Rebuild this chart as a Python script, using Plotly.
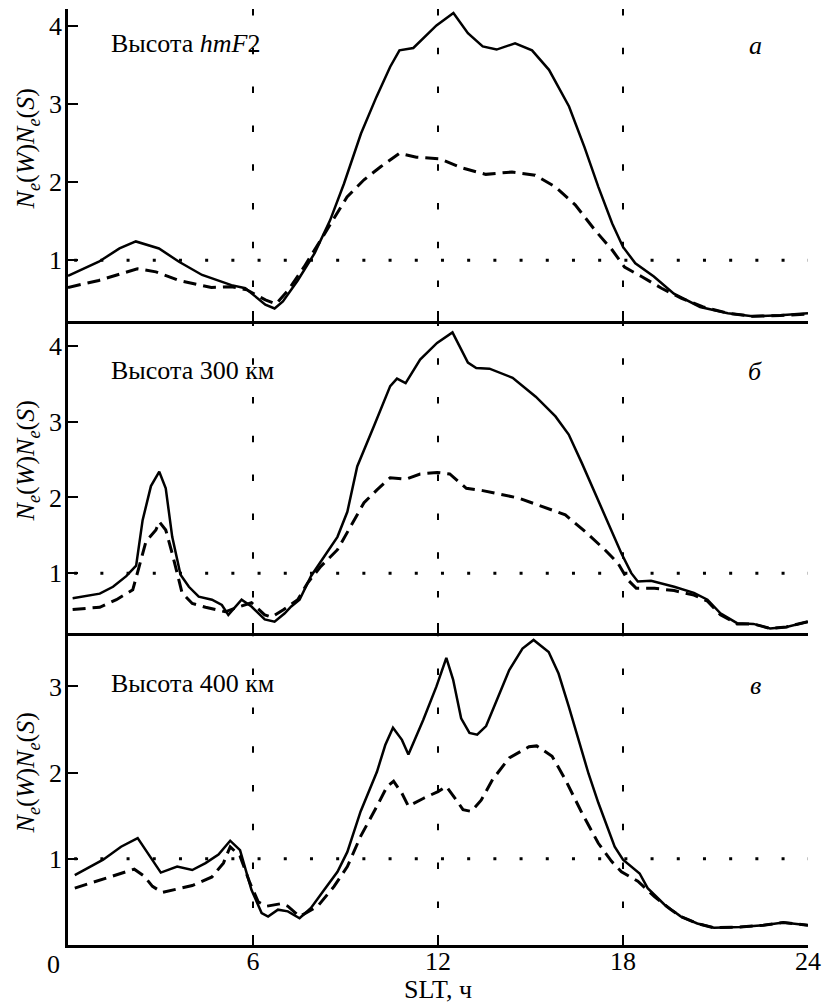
import plotly.graph_objects as go

# ---------------- data ----------------
# SLT hours and Ne(W)/Ne(S) ratios, three heights
hours_a = [0.0, 1.0, 1.67, 2.2, 2.95, 3.6, 4.35, 5.3, 5.75, 6.4, 6.7, 6.97, 7.45, 8.0, 8.5, 8.95,
           9.5, 10.0, 10.45, 10.75, 11.2, 11.95, 12.5, 12.97, 13.45, 13.9, 14.5, 15.05, 15.6, 16.25,
           16.75, 17.2, 17.65, 18.0, 18.4, 19.0, 19.65, 20.5, 21.4, 22.2, 23.1, 24.0]
solid_a = [0.80, 0.98, 1.15, 1.24, 1.15, 0.98, 0.81, 0.68, 0.64, 0.43, 0.38, 0.47, 0.74, 1.09, 1.51, 1.98,
           2.62, 3.09, 3.48, 3.69, 3.72, 4.01, 4.17, 3.91, 3.74, 3.70, 3.78, 3.69, 3.44, 2.97,
           2.45, 1.94, 1.47, 1.17, 0.96, 0.79, 0.57, 0.40, 0.32, 0.28, 0.295, 0.32]
hours_a_d = [0.0, 1.0, 2.25, 2.85, 3.6, 4.65, 5.3, 5.8, 6.4, 6.75, 7.15, 7.65, 8.2, 8.65, 9.05, 9.6,
             10.15, 10.75, 11.3, 12.05, 12.8, 13.55, 14.4, 15.15, 15.8, 16.45, 17.1, 17.65, 18.05,
             18.6, 19.25, 19.9, 20.6, 21.4, 22.2, 23.1, 24.0]
dashed_a = [0.65, 0.74, 0.89, 0.85, 0.74, 0.65, 0.66, 0.62, 0.49, 0.44, 0.62, 0.91, 1.26, 1.56, 1.81, 2.03,
            2.20, 2.37, 2.32, 2.30, 2.18, 2.10, 2.13, 2.09, 1.94, 1.71, 1.38, 1.13, 0.91,
            0.79, 0.64, 0.51, 0.40, 0.32, 0.28, 0.29, 0.31]

hours_b = [0.15, 1.03, 1.46, 1.89, 2.21, 2.42, 2.69, 2.96, 3.17, 3.38, 3.65, 3.92, 4.24, 4.67, 4.99, 5.2,
           5.63, 5.95, 6.38, 6.7, 7.03, 7.24, 7.51, 7.88, 8.31, 8.74, 9.06, 9.38, 9.92, 10.45, 10.67,
           10.95, 11.42, 11.97, 12.47, 12.97, 13.24, 13.67, 14.42, 15.17, 15.81, 16.24, 16.67, 17.1,
           17.52, 17.95, 18.27, 18.48, 18.91, 19.66, 20.3, 20.74, 21.16, 21.7, 22.23, 22.77, 23.3, 24.0]
solid_b = [0.67, 0.73, 0.82, 0.96, 1.10, 1.70, 2.15, 2.34, 2.12, 1.48, 0.98, 0.82, 0.69, 0.65, 0.58, 0.45,
           0.65, 0.56, 0.39, 0.36, 0.47, 0.56, 0.65, 0.96, 1.22, 1.48, 1.81, 2.41, 2.94, 3.47, 3.57,
           3.51, 3.82, 4.04, 4.18, 3.78, 3.71, 3.70, 3.58, 3.33, 3.07, 2.83, 2.45, 2.06,
           1.66, 1.26, 1.00, 0.89, 0.90, 0.82, 0.74, 0.65, 0.47, 0.34, 0.33, 0.27, 0.29, 0.36]
hours_b_d = [0.15, 1.03, 1.57, 2.1, 2.31, 2.53, 2.85, 2.96, 3.17, 3.38, 3.7, 4.03, 4.46, 5.1, 5.5, 5.95,
             6.38, 6.6, 7.0, 7.45, 7.77, 8.2, 8.74, 9.17, 9.6, 10.02, 10.45, 10.95, 11.42, 11.97,
             12.38, 12.92, 13.45, 14.63, 15.38, 16.13, 16.77, 17.41, 17.84, 18.16, 18.43, 19.02,
             19.66, 20.3, 20.74, 21.16, 21.7, 22.23, 22.77, 23.3, 24.0]
dashed_b = [0.52, 0.55, 0.65, 0.78, 1.09, 1.42, 1.57, 1.68, 1.57, 1.26, 0.74, 0.60, 0.55, 0.49, 0.55, 0.61,
            0.45, 0.42, 0.52, 0.65, 0.87, 1.09, 1.31, 1.62, 1.93, 2.10, 2.26, 2.24, 2.31, 2.33,
            2.31, 2.12, 2.09, 1.99, 1.88, 1.77, 1.55, 1.31, 1.13, 0.91, 0.80, 0.80,
            0.77, 0.71, 0.63, 0.45, 0.33, 0.33, 0.27, 0.29, 0.36]

hours_c = [0.22, 1.14, 1.72, 2.26, 3.01, 3.54, 4.03, 4.46, 4.88, 5.26, 5.58, 5.95, 6.28, 6.49, 6.81, 7.13,
           7.51, 7.88, 8.31, 8.74, 9.06, 9.49, 10.02, 10.29, 10.54, 10.83, 11.04, 11.52, 11.95, 12.27,
           12.49, 12.75, 13.02, 13.27, 13.56, 13.88, 14.31, 14.74, 15.1, 15.59, 15.91, 16.24, 16.56,
           16.88, 17.2, 17.52, 17.73, 18.0, 18.54, 18.8, 19.34, 19.88, 20.41, 20.95, 21.8, 22.55, 23.2, 24.0]
solid_c = [0.81, 0.99, 1.14, 1.24, 0.84, 0.91, 0.87, 0.95, 1.05, 1.21, 1.10, 0.64, 0.37, 0.33, 0.41, 0.39,
           0.31, 0.43, 0.64, 0.85, 1.08, 1.55, 2.01, 2.32, 2.52, 2.38, 2.21, 2.61, 3.00, 3.33,
           3.08, 2.63, 2.46, 2.44, 2.54, 2.81, 3.19, 3.44, 3.54, 3.40, 3.15, 2.77, 2.38,
           1.99, 1.65, 1.34, 1.14, 0.99, 0.83, 0.66, 0.47, 0.33, 0.25, 0.20, 0.21, 0.23, 0.26, 0.23]
hours_c_d = [0.22, 1.03, 2.15, 2.47, 2.74, 3.06, 4.03, 4.67, 5.04, 5.26, 5.58, 5.9, 6.17, 6.44, 6.92, 7.13,
             7.51, 8.1, 8.63, 9.06, 9.49, 10.02, 10.35, 10.56, 10.83, 11.04, 11.52, 12.0, 12.27, 12.6,
             12.81, 13.08, 13.4, 13.77, 14.31, 14.95, 15.2, 15.7, 16.13, 16.67, 17.2, 17.63, 17.95,
             18.48, 19.02, 19.55, 19.88, 20.41, 20.95, 21.8, 22.55, 23.2, 24.0]
dashed_c = [0.66, 0.75, 0.88, 0.80, 0.68, 0.61, 0.69, 0.79, 0.95, 1.14, 1.03, 0.72, 0.50, 0.45, 0.48, 0.45,
            0.33, 0.45, 0.68, 0.91, 1.26, 1.61, 1.84, 1.90, 1.76, 1.61, 1.70, 1.78, 1.84, 1.68,
            1.57, 1.55, 1.68, 1.92, 2.17, 2.30, 2.31, 2.19, 1.92, 1.53, 1.18, 0.97, 0.85,
            0.74, 0.56, 0.41, 0.33, 0.25, 0.20, 0.21, 0.23, 0.26, 0.23]

panel_titles = ["Высота <i>hmF</i>2", "Высота 300 км", "Высота 400 км"]
panel_letters = ["а", "б", "в"]
y_ranges = [[0.22, 4.22], [0.21, 4.33], [0.0, 3.62]]
y_ticks = [[1, 2, 3, 4], [1, 2, 3, 4], [1, 2, 3]]
x_ticks = [0, 6, 12, 18, 24]
x_range = [0, 24]
marker_hours = [6, 12, 18]
reference_level = 1
x_title = "SLT, ч"
y_title = "<i>N</i><sub><i>e</i></sub>(<i>W</i>)<i>N</i><sub><i>e</i></sub>(<i>S</i>)"

# ---------------- figure ----------------
W, H = 830, 1005
M_L, M_R, M_T, M_B = 68, 15, 9, 60
plot_h = H - M_T - M_B
FONT = "'Liberation Serif', 'Times New Roman', serif"
FS = 26

series = [(hours_a, solid_a, hours_a_d, dashed_a),
          (hours_b, solid_b, hours_b_d, dashed_b),
          (hours_c, solid_c, hours_c_d, dashed_c)]

fig = go.Figure()
layout = dict(width=W, height=H, plot_bgcolor="white", paper_bgcolor="white",
              margin=dict(l=M_L, r=M_R, t=M_T, b=M_B), showlegend=False,
              font=dict(family=FONT, size=FS, color="black"))

shapes, annotations = [], []

def py_to_paper(py):
    return (H - M_B - py) / plot_h

for i in range(3):
    sfx = "" if i == 0 else str(i + 1)
    xs, ys, xd, yd = series[i]
    fig.add_trace(go.Scatter(x=xs, y=ys, mode="lines", xaxis="x" + sfx, yaxis="y" + sfx,
                             line=dict(color="black", width=2.5)))
    fig.add_trace(go.Scatter(x=xd, y=yd, mode="lines", xaxis="x" + sfx, yaxis="y" + sfx,
                             line=dict(color="black", width=3, dash="13px,7px")))
    top = 1 - i / 3
    bot = 1 - (i + 1) / 3
    layout["xaxis" + sfx] = dict(
        domain=[0, 1], range=x_range, anchor="y" + sfx,
        showline=True, linewidth=2.5, linecolor="black",
        ticks="inside", ticklen=10, tickwidth=2, tickcolor="black",
        tickvals=x_ticks[1:], ticktext=[str(v) for v in x_ticks[1:]],
        showticklabels=(i == 2), ticklabelstandoff=-9,
        showgrid=False, zeroline=False, fixedrange=True,
        tickfont=dict(family=FONT, size=FS, color="black"))
    layout["yaxis" + sfx] = dict(
        domain=[bot, top], range=y_ranges[i], anchor="x" + sfx,
        showline=True, linewidth=2.5, linecolor="black",
        ticks="inside", ticklen=10, tickwidth=2, tickcolor="black",
        tickvals=y_ticks[i], ticktext=[str(v) for v in y_ticks[i]],
        ticklabelstandoff=-2,
        showgrid=False, zeroline=False, fixedrange=True,
        tickfont=dict(family=FONT, size=FS, color="black"))
    # dotted reference level
    shapes.append(dict(type="line", xref="x" + sfx, yref="y" + sfx, x0=0.2, x1=x_range[1],
                       y0=reference_level, y1=reference_level, layer="below",
                       line=dict(color="black", width=3, dash="3px,23.2px")))
    # panel heading and letter
    ptop = 9 + i * 312
    annotations.append(dict(text=panel_titles[i], xref="paper", yref="paper",
                            x=(109 - M_L) / (W - M_L - M_R), y=py_to_paper(ptop + [35, 50, 50][i]),
                            xanchor="left", yanchor="middle", showarrow=False,
                            font=dict(family=FONT, size=FS, color="black")))
    annotations.append(dict(text="<i>" + panel_letters[i] + "</i>", xref="paper", yref="paper",
                            x=(762 - M_L) / (W - M_L - M_R), y=py_to_paper(ptop + [37, 51, 52][i]),
                            xanchor="center", yanchor="middle", showarrow=False,
                            font=dict(family=FONT, size=FS, color="black")))
    # vertical axis title
    annotations.append(dict(text=y_title, xref="paper", yref="paper",
                            x=(27 - M_L) / (W - M_L - M_R), y=py_to_paper(ptop + 156 - 16),
                            xanchor="center", yanchor="middle", textangle=-90, showarrow=False,
                            font=dict(family=FONT, size=FS, color="black")))

# dashed vertical marks through all panels
for h in marker_hours:
    shapes.append(dict(type="line", xref="x", yref="paper", x0=h, x1=h, y0=1, y1=0,
                       layer="below", line=dict(color="black", width=2, dash="6.5px,32.3px")))

# corner label for the first hour tick and the horizontal axis title
annotations.append(dict(text=str(x_ticks[0]), xref="paper", yref="paper",
                        x=(53 - M_L) / (W - M_L - M_R), y=py_to_paper(965),
                        xanchor="center", yanchor="middle", showarrow=False,
                        font=dict(family=FONT, size=FS, color="black")))
annotations.append(dict(text=x_title, xref="x3", yref="paper", x=12, y=py_to_paper(989),
                        xanchor="center", yanchor="middle", showarrow=False,
                        font=dict(family=FONT, size=FS, color="black")))

layout["shapes"] = shapes
layout["annotations"] = annotations
fig.update_layout(**layout)
fig.write_html("out.html")
